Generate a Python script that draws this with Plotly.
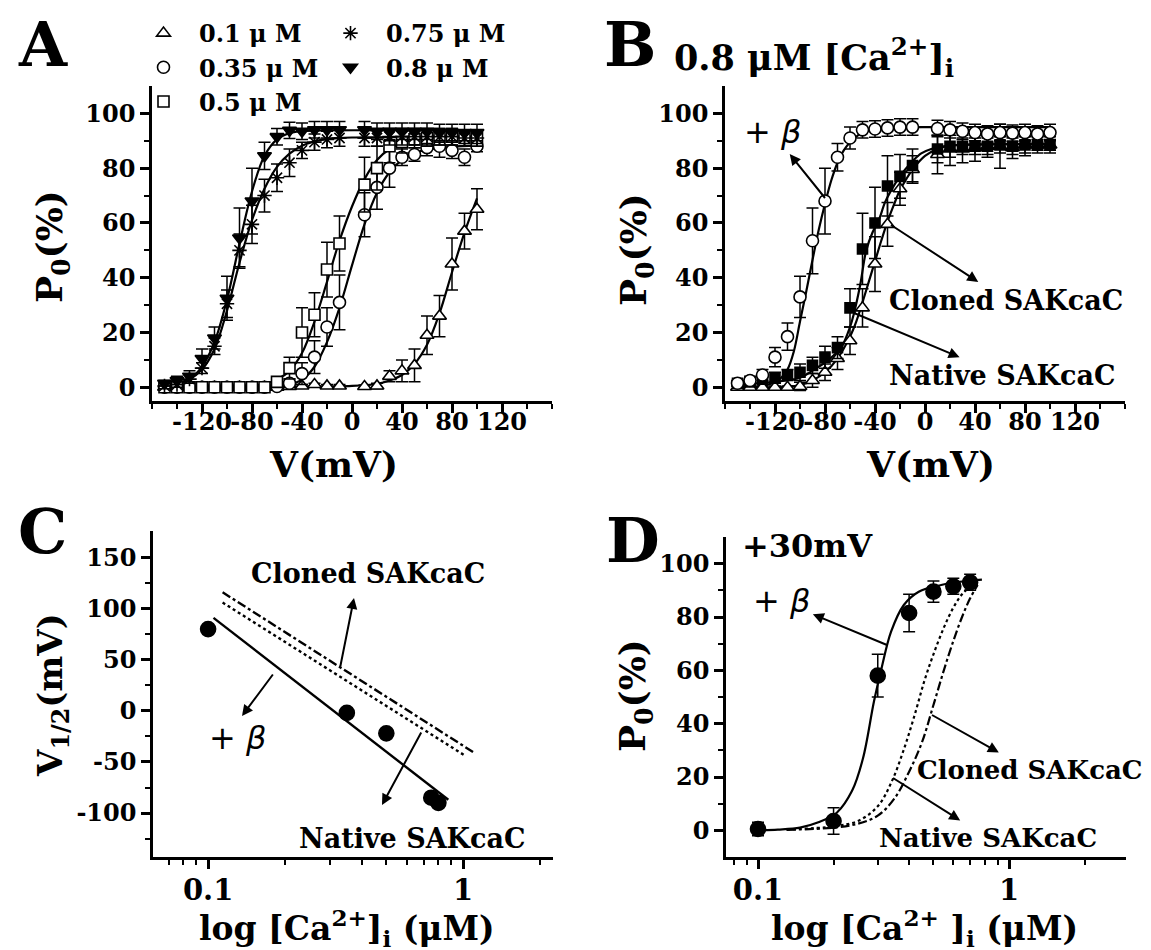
import math
import plotly.graph_objects as go

W, H = 1151, 950
FONT = "DejaVu Serif"

# ---------------- Panel A : Po vs V at several [Ca2+]i ----------------
V_A = [-150, -140, -130, -120, -110, -100, -90, -80, -70, -60, -50, -40, -30, -20, -10,
       10, 20, 30, 40, 50, 60, 70, 80, 90, 100]
P_01 = [0, 0, 0, 0, 0, 0, 0, 0, 0, 0, 0.3, 0.5, 1, 0.5, 0.5, 0.3, 0.5, 4, 6, 8, 19, 26, 45, 57, 65]
E_01 = [0.5, 0.5, 0.5, 0.5, 0.5, 0.5, 0.5, 0.5, 0.5, 0.5, 0.5, 0.5, 0.5, 0.5, 0.5, 0.5, 1, 2, 4, 6, 7, 7.5, 9.5, 6.5, 7.5]
P_035 = [0, 0, 0, 0, 0, 0, 0, 0, 0, 0.3, 1.5, 5, 11, 22, 31, 63, 73, 80, 84, 85, 87.5, 88, 86.5, 84, 88]
E_035 = [0.5, 0.5, 0.5, 0.5, 0.5, 0.5, 0.5, 0.5, 0.5, 0.5, 1.5, 4, 6, 7, 10, 8, 8, 7, 3, 2.5, 3, 4, 3, 3, 2]
P_05 = [0, 0, 0, 0, 0, 0, 0, 0, 0, 2, 7, 20, 26.5, 43, 52.5, 74, 80, 88, 89.5, 90.5, 91, 91.5, 91.5, 91, 91]
E_05 = [0.5, 0.5, 0.5, 0.5, 0.5, 0.5, 0.5, 0.5, 0.5, 1.5, 4, 9, 8, 10, 10, 10, 8, 6, 4, 3, 3, 3, 3, 3, 3]
P_075 = [0.5, 1, 3, 7, 15, 30.5, 50, 59.5, 70, 76.5, 82, 86.5, 89.5, 90.5, 91, 91, 91, 91.5, 91.5, 91.5,
         91.5, 91.5, 91.5, 91, 91]
E_075 = [1, 1, 1.5, 2, 3, 5, 6, 7, 6, 5, 5, 3, 3, 3, 3, 3, 3, 3, 3, 3, 3, 3, 3, 3, 3]
P_08 = [1.5, 2.5, 4, 10.5, 18, 32.5, 54.5, 68, 84.5, 91.5, 93.8, 93.5, 94, 94, 94, 94, 93.5, 93.5, 93.5,
        93.5, 93.5, 93, 93, 93, 93]
E_08 = [1, 1.5, 2, 3.5, 4, 8, 11, 12, 5, 3, 3, 3, 3, 3, 3, 3, 3, 3, 3, 3, 3, 3, 3, 3, 3]

# fitted curves
FV_01 = [-155, -100, -50, 0, 20, 30, 40, 50, 60, 70, 80, 90, 100]
FP_01 = [0, 0, 0.2, 0.5, 1.3, 2.5, 4.5, 8.5, 15.5, 27, 42, 56.5, 69]
FV_035 = [-155, -80, -60, -50, -40, -30, -20, -10, 0, 10, 20, 30, 40, 50, 60, 80, 100]
FP_035 = [0, 0.1, 0.4, 1, 2.8, 7.5, 16.5, 29, 44.5, 59.5, 71, 78.5, 83, 85.5, 86.8, 87.8, 88.2]
FV_05 = [-155, -100, -80, -70, -60, -50, -40, -30, -20, -10, 0, 10, 20, 30, 40, 50, 70, 100]
FP_05 = [0, 0.1, 0.5, 1.2, 2.8, 6, 12.5, 24, 38.5, 53.5, 66, 76, 83, 87, 89.3, 90.5, 91.3, 91.5]
FV_075 = [-155, -140, -130, -120, -110, -100, -90, -80, -70, -60, -50, -40, -30, -20, 0, 50, 100]
FP_075 = [0.5, 1.5, 3, 6.5, 14, 28, 45.5, 61, 72.5, 80.5, 85.3, 88.2, 89.8, 90.6, 91.2, 91.4, 91.5]
FV_08 = [-155, -140, -130, -120, -110, -100, -90, -80, -70, -60, -50, -40, -20, 50, 100]
FP_08 = [0.5, 1.5, 3, 7.5, 16.5, 32, 52.5, 71.5, 84.5, 90.5, 92.8, 93.5, 93.8, 93.8, 93.8]

# ---------------- Panel B : 0.8 uM Ca ----------------
V_B = V_A
P_plus = [1.5, 2.5, 4.5, 11, 18.5, 33, 53.5, 68, 84, 91, 94, 94.3, 94.7, 95, 95, 94.5, 94, 93.5, 93,
          92.5, 93, 92.8, 93, 92.5, 93]
E_plus = [1, 1.5, 2, 3.5, 5, 7.5, 12, 12, 5, 4, 3, 3, 3, 3, 3, 3, 3, 3, 3, 3, 3, 3, 3, 3, 3]
P_nat = [1.5, 2, 3, 3.5, 4.5, 5.5, 8, 11, 14.5, 29, 50.5, 60, 73.5, 77, 81, 87, 88, 88, 88, 88, 88.5,
         88, 88.5, 88.5, 88.5]
E_nat = [1, 1, 1.5, 2, 2, 3, 3, 4, 4, 7, 13, 13, 11, 8, 6, 5, 4, 3, 3, 3, 3, 3, 3, 2, 2]
P_clo = [0, 0, 0, 0, 0, 0.3, 2.5, 5.5, 10.5, 17, 29, 45, 59.5, 72.5, 79.5, 85, 87, 87, 87.5, 88, 88,
         87.5, 88.5, 88.5, 88.5]
E_clo = [0.5, 0.5, 0.5, 0.5, 0.5, 1.5, 2.5, 3, 4, 5, 7, 10, 8, 6, 5, 7, 6, 5, 5, 4, 8, 4, 4, 3, 3]

FV_plus = [-150, -130, -120, -115, -110, -105, -100, -95, -90, -85, -80, -75, -70, -65, -60, -55,
           -50, -40, -30, -20, 0, 100]
FP_plus = [0, 0.5, 1.8, 3.5, 6.5, 13, 24, 35, 46.5, 57.5, 67, 75.5, 82, 86.5, 89.5, 91.5, 93, 94.3,
           94.7, 94.9, 95, 95]
FV_nat = [-150, -120, -100, -88, -80, -70, -67, -60, -57, -52, -47, -42, -37, -32, -27, -20, -16,
          -10, -3, 5, 15, 30, 100]
FP_nat = [1, 2, 3.5, 6.7, 9, 13, 14.5, 22, 26.7, 37, 50, 56.5, 61, 67.5, 72, 77, 79.4, 82.5, 85.4,
          87, 88, 88.5, 88.8]
FV_clo = [-150, -110, -100, -90, -80, -70, -60, -55, -50, -45, -40, -35, -30, -25, -20, -15, -10, 0,
          10, 20, 40, 100]
FP_clo = [0, 0.2, 0.8, 2.5, 5.5, 10.5, 18.5, 24, 31, 38.5, 46, 53.5, 60.5, 66.5, 72, 76, 79.5, 84.5,
          87, 88.2, 88.7, 88.8]

# ---------------- Panel C : V1/2 vs log Ca ----------------
CA_C = [0.1, 0.35, 0.5, 0.75, 0.8]
V12_C = [80, -2, -22, -85, -90]
LINE_PLUS_CA = [0.105, 0.875]
LINE_PLUS_V = [91, -87]
LINE_NAT_CA = [0.114, 1.02]
LINE_NAT_V = [106, -44]
LINE_CLO_CA = [0.114, 1.105]
LINE_CLO_V = [116, -41]

# ---------------- Panel D : Po vs log Ca at +30 mV ----------------
CA_D = [0.1, 0.2, 0.3, 0.4, 0.5, 0.6, 0.7]
P_D = [0.5, 3.5, 58, 81.5, 89.5, 91.5, 93]
E_D = [2.5, 5, 8, 7, 4, 3, 3]
FCA_plus = [0.095, 0.12, 0.147, 0.174, 0.206, 0.237, 0.262, 0.29, 0.311, 0.339, 0.381, 0.437, 0.537,
            0.65, 0.78]
FPD_plus = [0, 0.3, 1, 3, 6.6, 14.8, 27, 48.5, 61, 74.5, 84.5, 89.5, 92, 93.3, 94]
FCA_nat = [0.13, 0.2, 0.25, 0.3, 0.34, 0.38, 0.42, 0.46, 0.5, 0.55, 0.6, 0.65, 0.73]
FPD_nat = [0.3, 1.5, 3.5, 9, 18, 30, 43, 56, 66, 76, 83.5, 88.5, 93]
FCA_clo = [0.13, 0.2, 0.25, 0.3, 0.35, 0.4, 0.45, 0.5, 0.55, 0.6, 0.65, 0.7, 0.75]
FPD_clo = [0.2, 1, 2.5, 5.5, 12, 22, 33, 47, 60, 71, 80, 87, 92]

LEGEND_NAMES = ["0.1 \u03bc M", "0.35 \u03bc M", "0.5 \u03bc M", "0.75 \u03bc M", "0.8 \u03bc M"]

V_TICKS = [-120, -80, -40, 0, 40, 80, 120]
V_TICKTEXT = ["-120", "-80", "-40", "0", "40", "80", "120"]
V_MINOR = [-160, -140, -100, -60, -20, 20, 60, 100, 140, 160]
P_TICKS = [0, 20, 40, 60, 80, 100]
P_MINOR = [10, 30, 50, 70, 90]
V12_TICKS = [-100, -50, 0, 50, 100, 150]
V12_TICKTEXT = ["-100", "-50", "0", "50", "100", "150"]
V12_MINOR = [-125, -75, -25, 25, 75, 125]
CA_TICKS = [0.1, 1]
CA_TICKTEXT = ["0.1", "1"]
CA_MINOR_C = [0.07, 0.08, 0.09, 0.2, 0.3, 0.4, 0.5, 0.6, 0.7, 0.8, 0.9, 2]
CA_MINOR_D = [0.08, 0.09, 0.2, 0.3, 0.4, 0.5, 0.6, 0.7, 0.8, 0.9, 2]

fig = go.Figure()

def fit(x, y, xa, ya, dash="solid", shape="spline", width=2.2):
    fig.add_trace(go.Scatter(x=x, y=y, mode="lines", xaxis=xa, yaxis=ya, showlegend=False,
                             line=dict(color="black", width=width, dash=dash, shape=shape),
                             hoverinfo="skip"))

def pts(x, y, err, xa, ya, symbol, fill, name=None, legend="legend", size=12, lw=1.6):
    fig.add_trace(go.Scatter(
        x=x, y=y, mode="markers", xaxis=xa, yaxis=ya, name=name,
        showlegend=name is not None, legend=legend,
        marker=dict(symbol=symbol, size=size, color=fill, line=dict(color="black", width=lw)),
        error_y=None if err is None else dict(type="data", array=err, color="black",
                                              thickness=1.5, width=6)))

# A fits
fit(FV_01, FP_01, "x", "y")
fit(FV_035, FP_035, "x", "y")
fit(FV_05, FP_05, "x", "y")
fit(FV_075, FP_075, "x", "y")
fit(FV_08, FP_08, "x", "y")
# A points
pts(V_A, P_01, E_01, "x", "y", "triangle-up", "white", LEGEND_NAMES[0], "legend")
pts(V_A, P_035, E_035, "x", "y", "circle", "white", LEGEND_NAMES[1], "legend")
pts(V_A, P_05, E_05, "x", "y", "square", "white", LEGEND_NAMES[2], "legend", size=11)
pts(V_A, P_075, E_075, "x", "y", "asterisk-open", "black", LEGEND_NAMES[3], "legend2")
pts(V_A, P_08, E_08, "x", "y", "triangle-down", "black", LEGEND_NAMES[4], "legend2")

# B
fit(FV_plus, FP_plus, "x2", "y2")
fit(FV_nat, FP_nat, "x2", "y2")
fit(FV_clo, FP_clo, "x2", "y2")
pts(V_B, P_clo, E_clo, "x2", "y2", "triangle-up", "white")
pts(V_B, P_nat, E_nat, "x2", "y2", "square", "black", size=10)
pts(V_B, P_plus, E_plus, "x2", "y2", "circle", "white")

# C
fit(LINE_PLUS_CA, LINE_PLUS_V, "x3", "y3", "solid", "linear", 2.4)
fit(LINE_NAT_CA, LINE_NAT_V, "x3", "y3", "dot", "linear", 2.4)
fit(LINE_CLO_CA, LINE_CLO_V, "x3", "y3", "dashdot", "linear", 2.4)
pts(CA_C, V12_C, None, "x3", "y3", "circle", "black", size=15)

# D
fit(FCA_plus, FPD_plus, "x4", "y4", "solid")
fit(FCA_nat, FPD_nat, "x4", "y4", "dot")
fit(FCA_clo, FPD_clo, "x4", "y4", "dashdot")
pts(CA_D, P_D, E_D, "x4", "y4", "circle", "black", size=15)

def px(x):
    return x / W

def py(y):
    return 1 - y / H

tickfont = dict(family=FONT, size=24, color="black", weight="bold")
logtickfont = dict(family=FONT, size=29, color="black", weight="bold")
axis_common = dict(showline=True, linewidth=2.5, linecolor="black", mirror=False, showgrid=False,
                   zeroline=False, ticks="outside", ticklen=9, tickwidth=2.5, tickcolor="black",
                   tickangle=0)
minor_common = dict(ticks="outside", ticklen=5, tickwidth=2, tickcolor="black", showgrid=False)

dom_xA = [px(144), px(544)]
dom_xB = [px(717), px(1117)]
dom_yAB = [py(393), py(78)]
dom_xC = [px(145), px(545)]
dom_yC = [py(849), py(523)]
dom_xD = [px(718), px(1118)]
dom_yD = [py(849), py(529)]

legend_font = dict(family=FONT, size=24, color="black", weight="bold")
layout = dict(
    width=W, height=H, margin=dict(l=0, r=0, t=0, b=0), autosize=False,
    paper_bgcolor="white", plot_bgcolor="white", template="none",
    font=dict(family=FONT, color="black"),
    xaxis=dict(domain=dom_xA, anchor="y", range=[-160, 160], tickmode="array", tickvals=V_TICKS,
               ticktext=V_TICKTEXT, minor=dict(tickvals=V_MINOR, **minor_common),
               tickfont=tickfont, ticklabelstandoff=-12, **axis_common),
    yaxis=dict(domain=dom_yAB, anchor="x", range=[-5, 110], tickmode="array", tickvals=P_TICKS,
               minor=dict(tickvals=P_MINOR, **minor_common), tickfont=tickfont, **axis_common),
    xaxis2=dict(domain=dom_xB, anchor="y2", range=[-160, 160], tickmode="array", tickvals=V_TICKS,
                ticktext=V_TICKTEXT, minor=dict(tickvals=V_MINOR, **minor_common),
                tickfont=tickfont, ticklabelstandoff=-12, **axis_common),
    yaxis2=dict(domain=dom_yAB, anchor="x2", range=[-5, 110], tickmode="array", tickvals=P_TICKS,
                minor=dict(tickvals=P_MINOR, **minor_common), tickfont=tickfont, **axis_common),
    xaxis3=dict(domain=dom_xC, anchor="y3", type="log",
                range=[math.log10(0.0608), math.log10(0.0608) + 400 / 255],
                tickmode="array", tickvals=CA_TICKS, ticktext=CA_TICKTEXT,
                minor=dict(tickvals=CA_MINOR_C, **minor_common), tickfont=logtickfont,
                ticklabelstandoff=-4, **axis_common),
    yaxis3=dict(domain=dom_yC, anchor="x3", range=[-143, 176], tickmode="array",
                tickvals=V12_TICKS, ticktext=V12_TICKTEXT,
                minor=dict(tickvals=V12_MINOR, **minor_common), tickfont=tickfont, **axis_common),
    xaxis4=dict(domain=dom_xD, anchor="y4", type="log",
                range=[-1.1275, -1.1275 + 400 / 251],
                tickmode="array", tickvals=CA_TICKS, ticktext=CA_TICKTEXT,
                minor=dict(tickvals=CA_MINOR_D, **minor_common), tickfont=logtickfont,
                ticklabelstandoff=-4, **axis_common),
    yaxis4=dict(domain=dom_yD, anchor="x4", range=[-10, 110], tickmode="array", tickvals=P_TICKS,
                minor=dict(tickvals=P_MINOR, **minor_common), tickfont=tickfont, **axis_common),
    legend=dict(x=px(120), y=py(3), xanchor="left", yanchor="top", bgcolor="rgba(0,0,0,0)",
                font=legend_font, itemwidth=61, tracegroupgap=0),
    legend2=dict(x=px(307), y=py(3), xanchor="left", yanchor="top", bgcolor="rgba(0,0,0,0)",
                 font=legend_font, itemwidth=61, tracegroupgap=0),
    showlegend=True,
)
fig.update_layout(**layout)

ann = []

def text(x, y, s, size, bold=True, family=FONT, angle=0, xanchor="center"):
    ann.append(dict(x=px(x), y=py(y), xref="paper", yref="paper", text=s, showarrow=False,
                    xanchor=xanchor, yanchor="middle", textangle=angle,
                    font=dict(family=family, size=size, color="black",
                              weight="bold" if bold else "normal")))

def label_arrow(lx, ly, s, size, tx, ty, bold=True, family=FONT):
    # label at (lx, ly); arrow runs from the data point (tx, ty) to the label, head at the label side
    ann.append(dict(x=px(tx), y=py(ty), xref="paper", yref="paper", text=s, showarrow=True,
                    ax=lx - tx, ay=ly - ty, axref="pixel", ayref="pixel",
                    arrowside="start", startarrowhead=2, startarrowsize=1.1, arrowwidth=2,
                    arrowcolor="black", startstandoff=2,
                    font=dict(family=family, size=size, color="black",
                              weight="bold" if bold else "normal")))

def arrow(hx, hy, tx, ty):
    ann.append(dict(x=px(hx), y=py(hy), xref="paper", yref="paper", text="", showarrow=True,
                    ax=tx - hx, ay=ty - hy, axref="pixel", ayref="pixel", arrowhead=2,
                    arrowsize=1.1, arrowwidth=2, arrowcolor="black"))

# panel letters
text(35, 37, "A", 62)
text(622, 36, "B", 62)
text(34, 523, "C", 62)
text(625, 532, "D", 62)

# axis titles
text(325, 456, "V(mV)", 36)
text(44, 239, "P<sub>0</sub>(%)", 36, angle=-90)
text(922, 456, "V(mV)", 36)
text(628, 242, "P<sub>0</sub>(%)", 36, angle=-90)
text(44, 687, "V<sub>1/2</sub>(mV)", 34, angle=-90)
text(339, 920, "log [Ca<sup>2+</sup>]<sub>i</sub> (\u03bcM)", 33)
text(627, 688, "P<sub>0</sub>(%)", 36, angle=-90)
text(916, 920, "log [Ca<sup>2+</sup> ]<sub>i</sub> (\u03bcM)", 33)

# panel B
text(664, 50, "0.8 \u03bcM [Ca<sup>2+</sup>]<sub>i</sub>", 35, xanchor="left")
label_arrow(764, 124, "+ <i>\u03b2</i>", 32, 817, 190, bold=False, family="DejaVu Sans")
label_arrow(998, 292, "Cloned SAKcaC", 27, 883, 217)
label_arrow(994, 367, "Native SAKcaC", 27, 846, 305)

# panel C
text(360, 565, "Cloned SAKcaC", 27)
text(404, 830, "Native SAKcaC", 27)
text(229, 730, "+ <i>\u03b2</i>", 32, bold=False, family="DejaVu Sans")
arrow(346, 590, 332, 660)
arrow(234, 708, 266, 665)
arrow(374, 797, 414, 723)

# panel D
text(799, 538, "+30mV", 32)
label_arrow(773, 593, "+ <i>\u03b2</i>", 32, 879, 637, bold=False, family="DejaVu Sans")
label_arrow(1022, 762, "Cloned SAKcaC", 26, 924, 707)
label_arrow(980, 830, "Native SAKcaC", 26, 885, 770)

fig.update_layout(annotations=ann)
fig.write_html("out.html")
